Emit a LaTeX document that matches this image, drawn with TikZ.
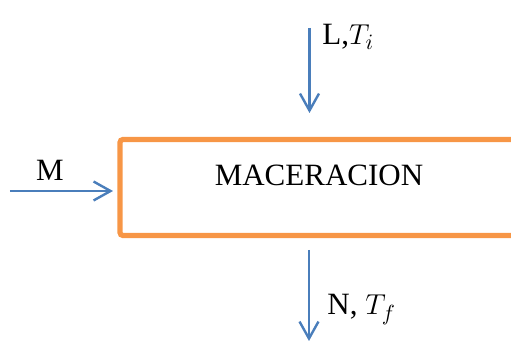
\documentclass[tikz,border=0pt]{standalone}
\usepackage{fontspec}
\setmainfont{Liberation Serif}
\usetikzlibrary{arrows.meta}
\definecolor{procorange}{HTML}{F79646}
\definecolor{flowblue}{HTML}{4A7EBB}

\tikzset{
  flow/.style={flowblue,line width=1.2pt,-{Straight Barb[length=8.5pt,width=9.5pt]}},
  procbox/.style={draw=procorange,line width=2.6pt,rounded corners=1.5pt,minimum width=199pt,minimum height=48pt,inner sep=0pt},
  lbl/.style={font=\fontsize{15.5}{18}\selectfont,inner sep=0pt}
}

\begin{document}
\begin{tikzpicture}[x=0.5pt,y=-0.5pt]
  \useasboundingbox (0,0) rectangle (511,342);
  \clip (0,0) rectangle (511,342);
  % proceso
  \node[procbox] (macer) at (319,187.5) {};
  \node[lbl] (macertxt) at (319,175) {MACERACION};
  % entradas
  \coordinate (min) at (10,191);
  \coordinate (mend) at (113,191);
  \draw[flow] (min) -- (mend);
  \node[lbl,anchor=base] (mlbl) at (50,181) {M};
  \coordinate (ltop) at (309.5,28);
  \coordinate (lend) at (309.5,113);
  \draw[flow] (ltop) -- (lend);
  \node[lbl,anchor=base west] (llbl) at (322,45) {L,$T_i$};
  % salida
  \coordinate (nstart) at (309,250);
  \coordinate (nend) at (309,341);
  \draw[flow] (nstart) -- (nend);
  \node[lbl,anchor=base west] (nlbl) at (327,315) {N, $T_f$};
\end{tikzpicture}
\end{document}
